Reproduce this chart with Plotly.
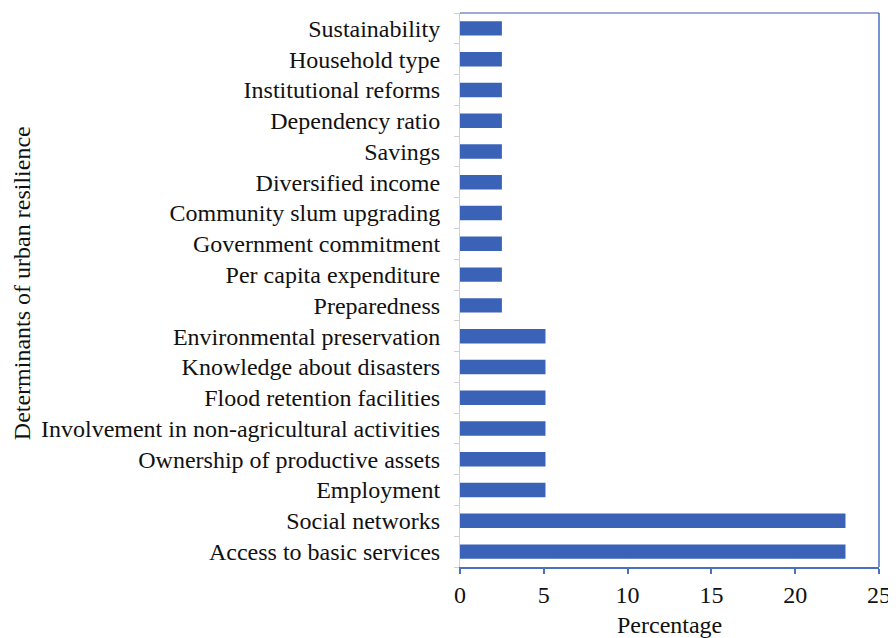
import plotly.graph_objects as go

categories = [
    "Access to basic services",
    "Social networks",
    "Employment",
    "Ownership of productive assets",
    "Involvement in non-agricultural activities",
    "Flood retention facilities",
    "Knowledge about disasters",
    "Environmental preservation",
    "Preparedness",
    "Per capita expenditure",
    "Government commitment",
    "Community slum upgrading",
    "Diversified income",
    "Savings",
    "Dependency ratio",
    "Institutional reforms",
    "Household type",
    "Sustainability",
]
percentages = [23.0, 23.0, 5.1, 5.1, 5.1, 5.1, 5.1, 5.1,
               2.5, 2.5, 2.5, 2.5, 2.5, 2.5, 2.5, 2.5, 2.5, 2.5]
x_ticks = [0, 5, 10, 15, 20, 25]

FONT = "Liberation Serif, Times New Roman, serif"
BLUE = "#4A70C0"

# page body adds an 8px offset; figure sized to fit the window
L, R, T, B = 452, 13, 5, 71
W, H = 888, 630
PW = W - L - R
PH = H - T - B

fig = go.Figure(go.Bar(
    x=percentages, y=categories, orientation="h",
    marker=dict(color="#3A63B8", line=dict(width=0)),
    width=0.47,
))

fig.update_layout(
    width=W, height=H,
    margin=dict(l=L, r=R, t=T, b=B),
    paper_bgcolor="white", plot_bgcolor="white",
    font=dict(family=FONT, size=24, color="#111111"),
    showlegend=False,
    xaxis=dict(
        range=[0, 25], tickvals=x_ticks, showgrid=False, zeroline=False,
        showline=True, linecolor=BLUE, linewidth=1.5,
        ticks="outside", ticklen=5, tickcolor=BLUE, tickwidth=1.5,
        tickfont=dict(size=24),
    ),
    yaxis=dict(
        categoryorder="array", categoryarray=categories,
        showgrid=False, zeroline=False,
        showline=True, linecolor="#d0d0d0", linewidth=1,
        ticks="outside", ticklen=5, tickcolor="#d0d0d0", tickson="boundaries",
        ticklabelstandoff=14,
        tickfont=dict(size=24),
    ),
    shapes=[
        dict(type="line", xref="paper", yref="paper", x0=0, x1=1, y0=1, y1=1,
             line=dict(color="#7E8FC0", width=1.5)),
        dict(type="line", xref="paper", yref="paper", x0=1, x1=1, y0=0, y1=1,
             line=dict(color=BLUE, width=1.5)),
    ],
    annotations=[
        dict(text="Percentage", xref="paper", yref="paper", x=0.5,
             y=-(617 - (H - B)) / PH,
             xanchor="center", yanchor="middle", showarrow=False,
             font=dict(size=24)),
        dict(text="Determinants of urban resilience", xref="paper", yref="paper",
             x=(10 - L) / PW, y=(H - B - 275) / PH, textangle=-90,
             xanchor="center", yanchor="middle", showarrow=False,
             font=dict(size=24)),
    ],
)

fig.write_html("out.html")
